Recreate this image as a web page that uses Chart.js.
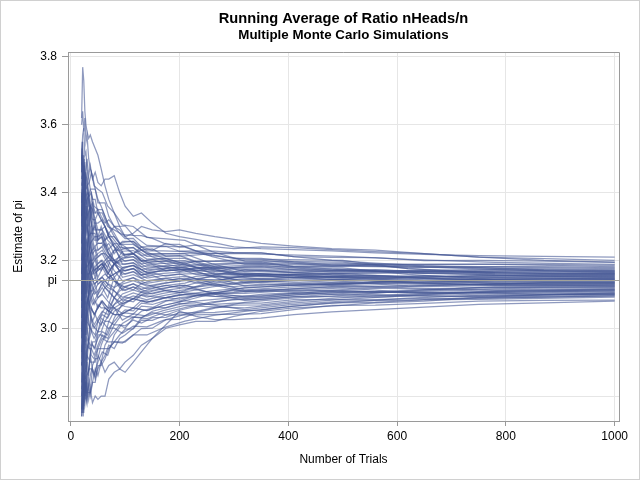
<!DOCTYPE html>
<html>
<head>
<meta charset="utf-8">
<title>Running Average of Ratio nHeads/n</title>
<script src="https://cdn.jsdelivr.net/npm/chart.js@4.4.1/dist/chart.umd.min.js"></script>
<style>
  html, body { margin: 0; padding: 0; background: #fff; }
</style>
</head>
<body>
<canvas id="piChart" width="640" height="480"></canvas>
<script>
const trials = [20, 22, 24, 26, 28, 30, 33, 36, 40, 45, 50, 56, 63, 70, 80, 90, 100, 115, 130, 150, 175, 200, 230, 265, 300, 350, 410, 480, 560, 650, 750, 870, 1000];
const trialsCoarse = [20, 21, 23, 25, 27, 30, 34, 38, 43, 50, 58, 68, 80, 95, 115, 140, 170, 210, 260, 320, 400, 500, 620, 780, 1000];

const xTicks = [0, 200, 400, 600, 800, 1000];
const yTicks = [2.8, 3.0, 3.2, 3.4, 3.6, 3.8];
const piValue = Math.PI;

// outlying runs (highest / lowest traces)
const run01 = [3.62, 3.77, 3.73, 3.64, 3.60, 3.58, 3.56, 3.57, 3.55, 3.53, 3.51, 3.47, 3.42, 3.38, 3.34, 3.30, 3.27, 3.25, 3.23, 3.21, 3.20, 3.19, 3.18, 3.172, 3.165, 3.16, 3.158, 3.152, 3.15, 3.155, 3.15, 3.148, 3.145];
const run02 = [3.60, 3.64, 3.58, 3.62, 3.55, 3.57, 3.50, 3.47, 3.45, 3.41, 3.38, 3.36, 3.33, 3.30, 3.27, 3.25, 3.24, 3.22, 3.20, 3.19, 3.18, 3.175, 3.17, 3.168, 3.175, 3.17, 3.165, 3.17, 3.172, 3.168, 3.165, 3.162, 3.16];
const run03 = [3.50, 3.45, 3.48, 3.42, 3.46, 3.50, 3.45, 3.48, 3.44, 3.46, 3.43, 3.42, 3.44, 3.44, 3.45, 3.40, 3.36, 3.33, 3.34, 3.31, 3.28, 3.27, 3.262, 3.252, 3.24, 3.235, 3.232, 3.228, 3.222, 3.218, 3.214, 3.212, 3.21];
const run04 = [3.40, 3.30, 3.36, 3.25, 3.32, 3.36, 3.30, 3.34, 3.28, 3.31, 3.27, 3.30, 3.26, 3.28, 3.30, 3.29, 3.27, 3.28, 3.30, 3.29, 3.285, 3.29, 3.28, 3.27, 3.262, 3.25, 3.242, 3.235, 3.23, 3.22, 3.21, 3.205, 3.20];
const run05 = [3.30, 3.40, 3.34, 3.44, 3.38, 3.35, 3.40, 3.32, 3.36, 3.30, 3.26, 3.28, 3.24, 3.25, 3.22, 3.24, 3.21, 3.22, 3.24, 3.23, 3.25, 3.24, 3.245, 3.24, 3.235, 3.24, 3.238, 3.232, 3.226, 3.22, 3.21, 3.20, 3.195];
const run06 = [2.74, 2.80, 2.76, 2.84, 2.80, 2.78, 2.85, 2.82, 2.88, 2.86, 2.92, 2.90, 2.95, 2.97, 2.99, 3.01, 3.00, 3.03, 3.05, 3.06, 3.08, 3.09, 3.095, 3.10, 3.105, 3.11, 3.108, 3.112, 3.118, 3.115, 3.11, 3.112, 3.115];
const run07 = [2.75, 2.82, 2.78, 2.86, 2.80, 2.84, 2.79, 2.82, 2.78, 2.80, 2.79, 2.80, 2.80, 2.85, 2.87, 2.88, 2.87, 2.90, 2.93, 2.97, 3.01, 3.05, 3.035, 3.025, 3.025, 3.03, 3.04, 3.048, 3.055, 3.062, 3.07, 3.075, 3.08];
const run08 = [2.90, 2.82, 2.86, 2.80, 2.84, 2.90, 2.86, 2.92, 2.88, 2.85, 2.88, 2.90, 2.87, 2.89, 2.90, 2.88, 2.90, 2.92, 2.95, 2.97, 3.00, 3.01, 3.02, 3.02, 3.035, 3.05, 3.06, 3.065, 3.075, 3.08, 3.09, 3.092, 3.095];
const run09 = [2.80, 2.86, 2.82, 2.88, 2.82, 2.79, 2.83, 2.80, 2.84, 2.88, 2.86, 2.90, 2.92, 2.95, 2.94, 2.97, 2.98, 3.00, 3.03, 3.05, 3.06, 3.07, 3.08, 3.085, 3.09, 3.10, 3.105, 3.10, 3.095, 3.10, 3.105, 3.10, 3.10];

// runs inside the main band, read on the fine grid
const run10 = [3.46, 3.51, 3.39, 3.46, 3.37, 3.40, 3.36, 3.36, 3.32, 3.32, 3.29, 3.29, 3.30, 3.27, 3.25, 3.23, 3.216, 3.220, 3.198, 3.202, 3.205, 3.194, 3.197, 3.198, 3.195, 3.196, 3.182, 3.183, 3.184, 3.184, 3.182, 3.182, 3.179];
const run11 = [3.35, 3.28, 3.37, 3.29, 3.36, 3.31, 3.34, 3.36, 3.37, 3.34, 3.35, 3.33, 3.31, 3.32, 3.30, 3.30, 3.302, 3.274, 3.273, 3.265, 3.248, 3.247, 3.228, 3.215, 3.206, 3.206, 3.196, 3.187, 3.188, 3.181, 3.175, 3.169, 3.167];
const run12 = [3.25, 3.30, 3.20, 3.27, 3.18, 3.23, 3.19, 3.20, 3.17, 3.15, 3.18, 3.17, 3.19, 3.17, 3.19, 3.20, 3.207, 3.211, 3.190, 3.195, 3.198, 3.187, 3.197, 3.198, 3.201, 3.201, 3.192, 3.183, 3.188, 3.188, 3.189, 3.188, 3.185];
const run13 = [3.14, 3.08, 3.18, 3.10, 3.19, 3.14, 3.19, 3.22, 3.23, 3.24, 3.21, 3.22, 3.22, 3.21, 3.19, 3.18, 3.169, 3.176, 3.157, 3.163, 3.154, 3.160, 3.146, 3.140, 3.129, 3.135, 3.131, 3.127, 3.132, 3.129, 3.126, 3.127, 3.128];
const run14 = [3.03, 3.10, 3.02, 3.08, 3.01, 3.07, 3.09, 3.11, 3.11, 3.13, 3.10, 3.13, 3.14, 3.15, 3.16, 3.17, 3.178, 3.185, 3.165, 3.171, 3.176, 3.167, 3.178, 3.181, 3.184, 3.186, 3.178, 3.170, 3.172, 3.166, 3.161, 3.159, 3.158];
const run15 = [2.93, 3.00, 2.91, 2.99, 2.91, 2.97, 2.96, 2.95, 2.95, 2.94, 2.98, 2.98, 2.97, 3.00, 3.02, 3.04, 3.054, 3.051, 3.074, 3.070, 3.082, 3.080, 3.096, 3.105, 3.112, 3.109, 3.116, 3.123, 3.120, 3.125, 3.129, 3.134, 3.134];
const run16 = [2.82, 2.90, 2.81, 2.90, 2.85, 2.93, 2.96, 2.98, 3.01, 3.00, 2.99, 3.03, 3.02, 3.02, 3.01, 3.01, 3.007, 3.024, 3.015, 3.031, 3.032, 3.046, 3.045, 3.047, 3.052, 3.053, 3.065, 3.075, 3.076, 3.084, 3.091, 3.098, 3.104];
const run17 = [3.50, 3.55, 3.45, 3.49, 3.41, 3.43, 3.37, 3.33, 3.29, 3.30, 3.26, 3.27, 3.24, 3.22, 3.19, 3.17, 3.159, 3.167, 3.148, 3.156, 3.140, 3.147, 3.134, 3.128, 3.123, 3.130, 3.126, 3.131, 3.136, 3.140, 3.144, 3.146, 3.146];
const run18 = [3.20, 3.26, 3.16, 3.21, 3.14, 3.17, 3.12, 3.09, 3.07, 3.08, 3.06, 3.08, 3.06, 3.05, 3.04, 3.04, 3.045, 3.042, 3.065, 3.062, 3.061, 3.073, 3.071, 3.070, 3.074, 3.074, 3.084, 3.084, 3.084, 3.088, 3.087, 3.092, 3.095];
const run19 = [3.10, 3.16, 3.06, 3.14, 3.09, 3.14, 3.16, 3.17, 3.19, 3.20, 3.17, 3.18, 3.20, 3.21, 3.23, 3.23, 3.235, 3.238, 3.215, 3.218, 3.219, 3.220, 3.222, 3.221, 3.223, 3.222, 3.211, 3.200, 3.192, 3.184, 3.179, 3.172, 3.170];
const run20 = [3.39, 3.32, 3.41, 3.33, 3.37, 3.31, 3.27, 3.24, 3.22, 3.23, 3.19, 3.20, 3.18, 3.16, 3.14, 3.12, 3.111, 3.122, 3.107, 3.117, 3.126, 3.120, 3.134, 3.140, 3.151, 3.145, 3.149, 3.153, 3.148, 3.151, 3.154, 3.156, 3.155];
const run21 = [2.97, 3.04, 2.95, 3.03, 2.98, 3.04, 3.06, 3.08, 3.10, 3.11, 3.09, 3.10, 3.12, 3.13, 3.12, 3.13, 3.140, 3.149, 3.132, 3.140, 3.147, 3.140, 3.153, 3.157, 3.157, 3.160, 3.154, 3.149, 3.152, 3.147, 3.144, 3.143, 3.143];
const run22 = [3.31, 3.36, 3.26, 3.33, 3.27, 3.30, 3.27, 3.28, 3.28, 3.28, 3.25, 3.25, 3.26, 3.27, 3.27, 3.25, 3.254, 3.256, 3.231, 3.234, 3.212, 3.214, 3.197, 3.181, 3.168, 3.171, 3.164, 3.157, 3.152, 3.147, 3.144, 3.140, 3.140];
const run23 = [2.89, 2.96, 2.87, 2.94, 2.87, 2.92, 2.91, 2.90, 2.90, 2.90, 2.94, 2.94, 2.94, 2.94, 2.96, 2.96, 2.959, 2.980, 2.999, 3.000, 3.025, 3.026, 3.045, 3.059, 3.068, 3.069, 3.079, 3.088, 3.096, 3.103, 3.108, 3.111, 3.113];
const run24 = [3.16, 3.22, 3.12, 3.18, 3.10, 3.14, 3.09, 3.05, 3.02, 3.04, 3.02, 3.04, 3.06, 3.05, 3.07, 3.08, 3.092, 3.087, 3.107, 3.101, 3.111, 3.106, 3.121, 3.134, 3.140, 3.145, 3.140, 3.136, 3.140, 3.136, 3.133, 3.130, 3.131];
const run25 = [3.08, 3.14, 3.04, 3.12, 3.18, 3.21, 3.22, 3.25, 3.26, 3.27, 3.23, 3.24, 3.25, 3.22, 3.20, 3.19, 3.188, 3.193, 3.173, 3.179, 3.183, 3.174, 3.178, 3.181, 3.179, 3.181, 3.173, 3.166, 3.168, 3.170, 3.168, 3.169, 3.164];
const run26 = [3.50, 3.42, 3.51, 3.42, 3.46, 3.42, 3.39, 3.36, 3.35, 3.32, 3.34, 3.32, 3.30, 3.28, 3.26, 3.24, 3.235, 3.220, 3.231, 3.218, 3.205, 3.194, 3.178, 3.169, 3.162, 3.155, 3.149, 3.144, 3.140, 3.133, 3.129, 3.127, 3.125];
const run27 = [2.76, 2.82, 2.77, 2.84, 2.82, 2.86, 2.88, 2.92, 2.96, 2.96, 2.99, 2.99, 3.02, 3.04, 3.06, 3.07, 3.083, 3.078, 3.098, 3.093, 3.090, 3.100, 3.096, 3.094, 3.096, 3.094, 3.102, 3.110, 3.108, 3.114, 3.119, 3.121, 3.122];
const run28 = [3.27, 3.20, 3.30, 3.21, 3.27, 3.21, 3.17, 3.16, 3.14, 3.15, 3.13, 3.14, 3.12, 3.11, 3.09, 3.07, 3.064, 3.060, 3.082, 3.078, 3.090, 3.086, 3.096, 3.105, 3.107, 3.114, 3.112, 3.110, 3.108, 3.107, 3.105, 3.108, 3.110];
const run29 = [3.01, 2.96, 3.06, 2.99, 3.05, 3.02, 3.01, 3.00, 2.99, 2.98, 3.02, 3.01, 3.04, 3.06, 3.09, 3.11, 3.121, 3.113, 3.132, 3.124, 3.133, 3.140, 3.146, 3.152, 3.151, 3.155, 3.149, 3.153, 3.156, 3.151, 3.154, 3.153, 3.152];
const run30 = [3.42, 3.47, 3.35, 3.42, 3.36, 3.38, 3.39, 3.41, 3.41, 3.41, 3.37, 3.37, 3.37, 3.33, 3.30, 3.28, 3.264, 3.265, 3.240, 3.241, 3.241, 3.227, 3.228, 3.227, 3.223, 3.222, 3.211, 3.209, 3.208, 3.199, 3.200, 3.198, 3.194];
const run31 = [2.80, 2.75, 2.85, 2.81, 2.85, 2.81, 2.81, 2.81, 2.84, 2.84, 2.89, 2.89, 2.91, 2.94, 2.96, 2.98, 2.997, 2.998, 3.024, 3.023, 3.039, 3.053, 3.064, 3.076, 3.085, 3.084, 3.093, 3.093, 3.092, 3.096, 3.094, 3.098, 3.101];
const run32 = [3.18, 3.12, 3.22, 3.14, 3.19, 3.18, 3.19, 3.20, 3.20, 3.21, 3.18, 3.19, 3.18, 3.16, 3.14, 3.13, 3.121, 3.131, 3.115, 3.124, 3.111, 3.106, 3.102, 3.094, 3.090, 3.089, 3.098, 3.106, 3.104, 3.110, 3.115, 3.118, 3.119];
const run33 = [3.06, 3.12, 3.02, 3.10, 3.05, 3.09, 3.07, 3.06, 3.05, 3.04, 3.07, 3.06, 3.06, 3.05, 3.04, 3.04, 3.035, 3.033, 3.032, 3.046, 3.039, 3.039, 3.039, 3.041, 3.041, 3.043, 3.055, 3.067, 3.068, 3.073, 3.080, 3.082, 3.083];
const run34 = [3.33, 3.38, 3.28, 3.33, 3.25, 3.26, 3.21, 3.17, 3.16, 3.17, 3.14, 3.15, 3.16, 3.15, 3.16, 3.17, 3.169, 3.176, 3.157, 3.163, 3.176, 3.180, 3.184, 3.186, 3.190, 3.191, 3.182, 3.174, 3.168, 3.162, 3.158, 3.153, 3.149];
const run35 = [2.95, 2.90, 3.00, 2.95, 3.03, 3.07, 3.11, 3.14, 3.17, 3.18, 3.15, 3.17, 3.19, 3.20, 3.20, 3.21, 3.216, 3.220, 3.198, 3.202, 3.190, 3.180, 3.172, 3.163, 3.157, 3.160, 3.154, 3.149, 3.144, 3.140, 3.136, 3.137, 3.137];
const run36 = [3.50, 3.57, 3.59, 3.51, 3.52, 3.47, 3.44, 3.41, 3.38, 3.38, 3.34, 3.32, 3.30, 3.27, 3.24, 3.21, 3.197, 3.202, 3.182, 3.187, 3.169, 3.174, 3.159, 3.152, 3.151, 3.155, 3.159, 3.162, 3.164, 3.162, 3.165, 3.162, 3.161];
const run37 = [2.74, 2.80, 2.75, 2.81, 2.78, 2.81, 2.83, 2.86, 2.89, 2.91, 2.91, 2.95, 2.98, 3.02, 3.05, 3.06, 3.073, 3.087, 3.098, 3.109, 3.118, 3.127, 3.121, 3.128, 3.134, 3.140, 3.135, 3.131, 3.136, 3.133, 3.129, 3.134, 3.134];

// more runs inside the band, read on the coarse grid
const run38 = [3.23, 3.29, 3.16, 3.25, 3.18, 3.21, 3.26, 3.29, 3.26, 3.26, 3.27, 3.23, 3.25, 3.247, 3.247, 3.220, 3.220, 3.219, 3.190, 3.167, 3.169, 3.170, 3.167, 3.167, 3.164];
const run39 = [3.08, 3.14, 3.02, 3.12, 3.05, 3.09, 3.06, 3.02, 3.00, 3.02, 3.04, 3.03, 3.07, 3.101, 3.113, 3.100, 3.111, 3.120, 3.105, 3.092, 3.102, 3.110, 3.104, 3.103, 3.107];
const run40 = [3.44, 3.49, 3.36, 3.44, 3.36, 3.38, 3.31, 3.26, 3.23, 3.23, 3.24, 3.21, 3.19, 3.159, 3.167, 3.148, 3.155, 3.160, 3.161, 3.161, 3.164, 3.166, 3.169, 3.174, 3.170];
const run41 = [2.84, 2.91, 2.80, 2.91, 2.85, 2.90, 2.99, 3.06, 3.04, 3.06, 3.08, 3.06, 3.12, 3.169, 3.176, 3.156, 3.162, 3.166, 3.175, 3.182, 3.183, 3.183, 3.180, 3.181, 3.176];
const run42 = [3.14, 3.20, 3.08, 3.18, 3.10, 3.14, 3.12, 3.13, 3.10, 3.11, 3.13, 3.11, 3.09, 3.072, 3.087, 3.076, 3.089, 3.100, 3.110, 3.119, 3.126, 3.131, 3.140, 3.147, 3.146];
const run43 = [3.37, 3.43, 3.30, 3.39, 3.31, 3.33, 3.35, 3.36, 3.31, 3.31, 3.32, 3.28, 3.24, 3.189, 3.193, 3.172, 3.177, 3.180, 3.152, 3.124, 3.130, 3.136, 3.125, 3.120, 3.122];
const run44 = [2.99, 3.06, 2.94, 3.05, 2.98, 3.02, 3.12, 3.22, 3.18, 3.19, 3.20, 3.18, 3.23, 3.256, 3.256, 3.228, 3.228, 3.226, 3.214, 3.204, 3.202, 3.200, 3.176, 3.160, 3.158];
const run45 = [3.29, 3.35, 3.22, 3.31, 3.23, 3.26, 3.16, 3.09, 3.07, 3.09, 3.10, 3.08, 3.06, 3.024, 3.042, 3.036, 3.052, 3.067, 3.063, 3.060, 3.073, 3.085, 3.096, 3.109, 3.113];
const run46 = [2.91, 2.97, 2.86, 2.97, 2.90, 2.95, 2.94, 2.94, 2.92, 2.95, 2.98, 2.97, 3.01, 3.043, 3.060, 3.052, 3.067, 3.081, 3.102, 3.119, 3.126, 3.131, 3.134, 3.140, 3.140];
const run47 = [3.48, 3.53, 3.40, 3.48, 3.40, 3.42, 3.43, 3.46, 3.42, 3.41, 3.40, 3.36, 3.34, 3.305, 3.300, 3.268, 3.264, 3.259, 3.226, 3.198, 3.197, 3.195, 3.176, 3.164, 3.161];
const run48 = [3.10, 3.16, 3.04, 3.14, 3.07, 3.11, 3.17, 3.25, 3.21, 3.22, 3.23, 3.20, 3.17, 3.140, 3.149, 3.132, 3.140, 3.147, 3.128, 3.108, 3.116, 3.123, 3.125, 3.130, 3.131];
const run49 = [3.33, 3.39, 3.26, 3.35, 3.27, 3.30, 3.24, 3.20, 3.17, 3.18, 3.19, 3.16, 3.19, 3.198, 3.202, 3.180, 3.184, 3.186, 3.190, 3.193, 3.192, 3.191, 3.188, 3.188, 3.182];
const run50 = [2.80, 2.87, 2.76, 2.87, 2.81, 2.86, 2.88, 2.88, 2.86, 2.90, 2.93, 2.92, 2.98, 3.014, 3.033, 3.028, 3.045, 3.061, 3.078, 3.087, 3.097, 3.106, 3.106, 3.106, 3.110];
const run51 = [3.18, 3.24, 3.12, 3.22, 3.14, 3.18, 3.13, 3.11, 3.08, 3.10, 3.12, 3.09, 3.15, 3.179, 3.185, 3.164, 3.169, 3.173, 3.155, 3.140, 3.145, 3.149, 3.140, 3.133, 3.134];
const run52 = [3.03, 3.10, 2.98, 3.08, 3.01, 3.05, 3.01, 2.99, 2.97, 2.99, 3.02, 3.00, 3.00, 2.985, 3.006, 3.004, 3.023, 3.041, 3.060, 3.076, 3.088, 3.097, 3.110, 3.123, 3.125];
const run53 = [3.50, 3.55, 3.44, 3.50, 3.43, 3.45, 3.38, 3.33, 3.29, 3.29, 3.29, 3.26, 3.24, 3.218, 3.220, 3.196, 3.198, 3.199, 3.175, 3.151, 3.154, 3.157, 3.153, 3.154, 3.152];
const run54 = [2.95, 3.02, 2.90, 3.01, 2.94, 2.98, 3.06, 3.14, 3.11, 3.13, 3.14, 3.12, 3.11, 3.091, 3.104, 3.092, 3.103, 3.114, 3.137, 3.156, 3.159, 3.161, 3.165, 3.171, 3.167];
const run55 = [3.25, 3.31, 3.18, 3.27, 3.20, 3.23, 3.30, 3.39, 3.34, 3.34, 3.34, 3.30, 3.29, 3.276, 3.274, 3.244, 3.242, 3.239, 3.211, 3.188, 3.188, 3.187, 3.180, 3.177, 3.173];
const run56 = [2.76, 2.83, 2.74, 2.84, 2.79, 2.83, 2.89, 2.96, 2.94, 2.97, 2.99, 2.98, 3.03, 3.072, 3.087, 3.076, 3.089, 3.100, 3.102, 3.103, 3.111, 3.119, 3.106, 3.096, 3.101];
const run57 = [3.16, 3.22, 3.10, 3.20, 3.12, 3.16, 3.16, 3.19, 3.16, 3.17, 3.18, 3.15, 3.14, 3.121, 3.131, 3.116, 3.125, 3.133, 3.155, 3.172, 3.173, 3.174, 3.165, 3.157, 3.155];
const run58 = [3.39, 3.45, 3.32, 3.41, 3.32, 3.35, 3.28, 3.23, 3.20, 3.21, 3.22, 3.19, 3.15, 3.111, 3.122, 3.108, 3.118, 3.127, 3.102, 3.082, 3.092, 3.102, 3.096, 3.092, 3.098];
const run59 = [3.06, 3.12, 3.00, 3.10, 3.03, 3.07, 3.11, 3.16, 3.13, 3.14, 3.15, 3.13, 3.19, 3.227, 3.229, 3.204, 3.206, 3.206, 3.178, 3.156, 3.159, 3.161, 3.150, 3.140, 3.140];
const run60 = [3.27, 3.33, 3.20, 3.29, 3.21, 3.24, 3.28, 3.31, 3.27, 3.27, 3.28, 3.24, 3.20, 3.150, 3.158, 3.140, 3.147, 3.153, 3.134, 3.113, 3.121, 3.127, 3.119, 3.113, 3.116];
const run61 = [2.89, 2.95, 2.84, 2.95, 2.88, 2.93, 2.98, 3.03, 3.01, 3.03, 3.05, 3.04, 3.09, 3.130, 3.140, 3.124, 3.133, 3.140, 3.143, 3.145, 3.150, 3.153, 3.144, 3.137, 3.137];
const run62 = [3.35, 3.41, 3.28, 3.37, 3.29, 3.31, 3.23, 3.16, 3.13, 3.14, 3.15, 3.13, 3.11, 3.082, 3.095, 3.084, 3.096, 3.107, 3.122, 3.135, 3.140, 3.144, 3.148, 3.150, 3.149];
const run63 = [3.12, 3.18, 3.06, 3.16, 3.09, 3.12, 3.08, 3.06, 3.04, 3.06, 3.08, 3.06, 3.06, 3.043, 3.060, 3.052, 3.067, 3.081, 3.069, 3.055, 3.069, 3.080, 3.083, 3.086, 3.092];
const run64 = [3.20, 3.26, 3.14, 3.24, 3.16, 3.19, 3.23, 3.28, 3.24, 3.25, 3.25, 3.22, 3.20, 3.179, 3.185, 3.164, 3.169, 3.173, 3.178, 3.177, 3.178, 3.178, 3.159, 3.143, 3.143];
const run65 = [2.97, 3.04, 2.92, 3.03, 2.96, 3.00, 2.95, 2.92, 2.91, 2.94, 2.97, 2.96, 2.96, 2.956, 2.980, 2.980, 3.001, 3.021, 3.037, 3.050, 3.064, 3.076, 3.089, 3.099, 3.104];
const run66 = [3.46, 3.51, 3.38, 3.46, 3.38, 3.40, 3.39, 3.40, 3.36, 3.35, 3.35, 3.31, 3.28, 3.237, 3.238, 3.212, 3.213, 3.213, 3.220, 3.220, 3.216, 3.212, 3.203, 3.194, 3.188];
const run67 = [3.01, 3.08, 2.96, 3.06, 2.99, 3.04, 3.12, 3.20, 3.17, 3.18, 3.19, 3.16, 3.19, 3.208, 3.211, 3.188, 3.191, 3.193, 3.161, 3.135, 3.140, 3.144, 3.134, 3.126, 3.128];

const fineRuns = [run01, run02, run03, run04, run05, run06, run07, run08, run09, run10,
                  run11, run12, run13, run14, run15, run16, run17, run18, run19, run20,
                  run21, run22, run23, run24, run25, run26, run27, run28, run29, run30,
                  run31, run32, run33, run34, run35, run36, run37];
const coarseRuns = [run38, run39, run40, run41, run42, run43, run44, run45, run46, run47,
                    run48, run49, run50, run51, run52, run53, run54, run55, run56, run57,
                    run58, run59, run60, run61, run62, run63, run64, run65, run66, run67];

const FONT = "'Liberation Sans', Arial, sans-serif";
const lineColor = 'rgba(68, 86, 148, 0.6)';
const frameColor = '#9a9a9a';
const gridColor = '#e6e6e6';
const refColor = '#a3a39a';

// titles centered over the plot area, frame on top/right, pi reference line
const sasDecor = {
    id: 'sasDecor',
    beforeDraw(chart) {
        const ctx = chart.ctx;
        ctx.save();
        ctx.fillStyle = '#fff';
        ctx.fillRect(0, 0, chart.width, chart.height);
        ctx.strokeStyle = '#d0d0d0';
        ctx.lineWidth = 1;
        ctx.strokeRect(0.5, 0.5, chart.width - 1, chart.height - 1);
        ctx.restore();
    },
    afterDatasetsDraw(chart) {
        const { ctx, chartArea: a, scales: { y } } = chart;
        const py = Math.round(y.getPixelForValue(piValue)) + 0.5;
        ctx.save();
        ctx.lineWidth = 1;
        ctx.strokeStyle = refColor;
        ctx.beginPath();
        ctx.moveTo(a.left, py);
        ctx.lineTo(a.right, py);
        ctx.stroke();
        ctx.strokeStyle = frameColor;
        ctx.beginPath();
        ctx.moveTo(a.left, Math.round(a.top) + 0.5);
        ctx.lineTo(Math.round(a.right) + 0.5, Math.round(a.top) + 0.5);
        ctx.lineTo(Math.round(a.right) + 0.5, a.bottom);
        ctx.stroke();
        ctx.restore();
    },
    afterDraw(chart) {
        const { ctx, chartArea: a } = chart;
        const cx = (a.left + a.right) / 2;
        ctx.save();
        ctx.fillStyle = '#000';
        ctx.textAlign = 'center';
        ctx.textBaseline = 'alphabetic';
        ctx.font = 'bold 14.67px ' + FONT;
        ctx.fillText('Running Average of Ratio nHeads/n', cx, 23);
        ctx.font = 'bold 13.33px ' + FONT;
        ctx.fillText('Multiple Monte Carlo Simulations', cx, 39);
        ctx.restore();
    }
};

const toDataset = (xs, run, i) => ({
    label: 'run ' + (i + 1),
    data: xs.map((n, j) => ({ x: n, y: run[j] })),
    borderColor: lineColor,
    borderWidth: 1.25,
    pointRadius: 0,
    tension: 0,
    fill: false
});

const datasets = [
    ...fineRuns.map((run, i) => toDataset(trials, run, i)),
    ...coarseRuns.map((run, i) => toDataset(trialsCoarse, run, fineRuns.length + i))
];

new Chart(document.getElementById('piChart').getContext('2d'), {
    type: 'line',
    data: { datasets },
    plugins: [sasDecor],
    options: {
        responsive: false,
        animation: false,
        events: [],
        layout: { padding: { left: 0, right: 21, top: 52, bottom: 0 } },
        plugins: {
            legend: { display: false },
            tooltip: { enabled: false },
            title: { display: false }
        },
        scales: {
            x: {
                type: 'linear',
                min: -5,
                max: 1008,
                afterBuildTicks: s => { s.ticks = xTicks.map(v => ({ value: v })); },
                afterFit: s => { s.height = 59; },
                grid: { color: gridColor, tickColor: frameColor, tickLength: 5 },
                border: { display: true, color: frameColor },
                ticks: {
                    color: '#000',
                    font: { family: FONT, size: 12 },
                    padding: 3,
                    maxRotation: 0,
                    autoSkip: false,
                    callback: v => String(v)
                },
                title: { display: true, text: 'Number of Trials', color: '#000', font: { family: FONT, size: 12 }, padding: { top: 0, bottom: 13 } }
            },
            y: {
                type: 'linear',
                min: 2.7263,
                max: 3.8147,
                afterBuildTicks: s => {
                    s.ticks = yTicks.concat([piValue]).sort((p, q) => p - q).map(v => ({ value: v }));
                },
                afterFit: s => { s.width = 68; },
                grid: {
                    color: c => (c.tick && c.tick.value === piValue) ? refColor : gridColor,
                    tickColor: frameColor,
                    tickLength: 6
                },
                border: { display: true, color: frameColor },
                ticks: {
                    color: '#000',
                    font: { family: FONT, size: 12 },
                    padding: 5,
                    autoSkip: false,
                    callback: v => (v === piValue ? 'pi' : v.toFixed(1))
                },
                title: { display: true, text: 'Estimate of pi', color: '#000', font: { family: FONT, size: 12 }, padding: { top: 11, bottom: 0 } }
            }
        }
    }
});
</script>
</body>
</html>
